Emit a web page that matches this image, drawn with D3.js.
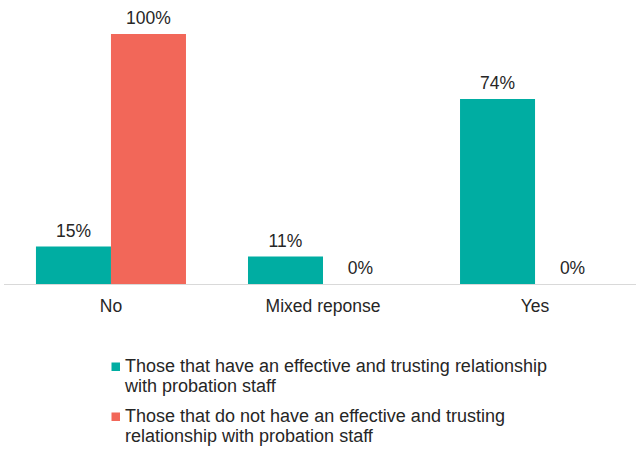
<!DOCTYPE html>
<html>
<head>
<meta charset="utf-8">
<script src="https://cdn.jsdelivr.net/npm/d3@7"></script>
<style>
  body { margin: 0; background: #fff; }
  text { font-family: "Liberation Sans", Arial, sans-serif; fill: #262626; }
</style>
</head>
<body>
<svg id="chart" width="636" height="452"></svg>
<script>
// Responses grouped by answer
const categories = ["No", "Mixed reponse", "Yes"];
const seriesNames = [
  ["Those that have an effective and trusting relationship", "with probation staff"],
  ["Those that do not have an effective and trusting", "relationship with probation staff"]
];
const trustingValues = [15, 11, 74];
const notTrustingValues = [100, 0, 0];
const colors = ["#00ADA2", "#F26759"];

const seriesValues = [trustingValues, notTrustingValues];
const svg = d3.select("#chart");

const fontSize = 17.5;
const legendFontSize = 18;
const baseline = 284;
const plotTop = 34;

const x0 = d3.scaleBand()
  .domain(categories)
  .range([5, 641])
  .paddingInner(0.2925)
  .paddingOuter(0.146);

const x1 = d3.scaleBand()
  .domain([0, 1])
  .range([0, x0.bandwidth()]);

const y = d3.scaleLinear().domain([0, 100]).range([baseline, plotTop]);

// baseline
svg.append("line")
  .attr("x1", 4).attr("x2", 636)
  .attr("y1", baseline + 0.5).attr("y2", baseline + 0.5)
  .attr("stroke", "#d9d9d9").attr("stroke-width", 1);

const groups = svg.selectAll("g.grp")
  .data(categories)
  .join("g")
  .attr("class", "grp")
  .attr("transform", d => `translate(${x0(d)},0)`);

groups.each(function(cat, ci) {
  const g = d3.select(this);
  seriesValues.forEach((vals, si) => {
    const v = vals[ci];
    g.append("rect")
      .attr("x", x1(si))
      .attr("width", x1.bandwidth())
      .attr("y", y(v))
      .attr("height", baseline - y(v))
      .attr("fill", colors[si]);
    g.append("text")
      .attr("x", x1(si) + x1.bandwidth() / 2)
      .attr("y", y(v) - 10)
      .attr("text-anchor", "middle")
      .attr("font-size", fontSize)
      .text(v + "%");
  });
});

// category axis labels
const xAxis = d3.axisBottom(x0).tickSize(0).tickPadding(0);
const axisG = svg.append("g")
  .attr("transform", `translate(0,${baseline})`)
  .call(xAxis);
axisG.select(".domain").remove();
axisG.selectAll("text")
  .attr("y", 28)
  .attr("dy", 0)
  .attr("font-size", fontSize)
  .style("font-family", "'Liberation Sans', Arial, sans-serif")
  .attr("fill", "#262626");

// legend
const legend = svg.append("g").attr("transform", "translate(111.5,0)");
seriesNames.forEach((lines, i) => {
  const yBase = 372 + i * 50;
  legend.append("rect")
    .attr("x", 0).attr("y", yBase - 9.5)
    .attr("width", 8.5).attr("height", 8.5)
    .attr("fill", colors[i]);
  const t = legend.append("text")
    .attr("x", 13.5).attr("y", yBase)
    .attr("font-size", legendFontSize);
  lines.forEach((ln, j) => {
    t.append("tspan").attr("x", 13.5).attr("dy", j === 0 ? 0 : 20).text(ln);
  });
});
</script>
</body>
</html>
